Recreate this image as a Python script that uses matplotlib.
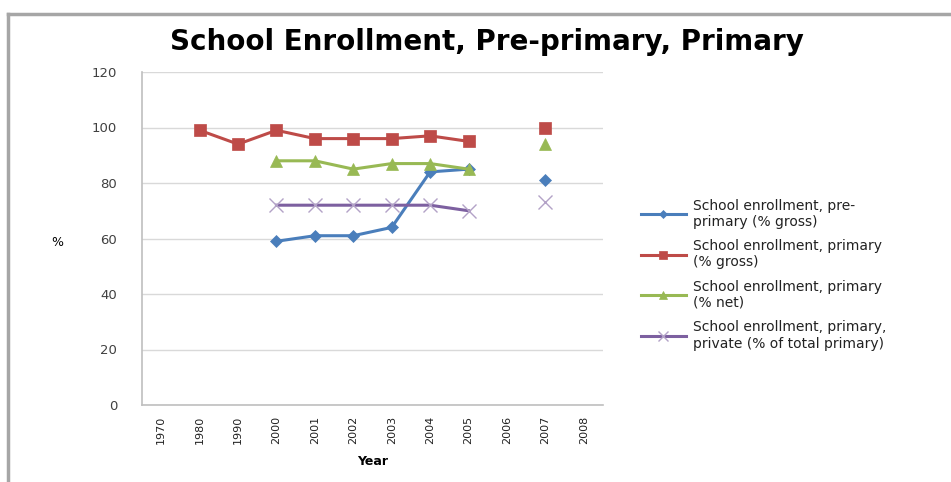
import numpy as np
import matplotlib
matplotlib.use("Agg")
import matplotlib.pyplot as plt
from matplotlib.lines import Line2D

years = ["1970", "1980", "1990", "2000", "2001", "2002", "2003", "2004", "2005", "2006", "2007", "2008"]
nan = np.nan
pre_primary_gross = [nan, nan, nan, 59, 61, 61, 64, 84, 85, nan, 81, nan]
primary_gross = [nan, 99, 94, 99, 96, 96, 96, 97, 95, nan, 100, nan]
primary_net = [nan, nan, nan, 88, 88, 85, 87, 87, 85, nan, 94, nan]
primary_private = [nan, nan, nan, 72, 72, 72, 72, 72, 70, nan, 73, nan]

labels = ["School enrollment, pre-\nprimary (% gross)",
          "School enrollment, primary\n(% gross)",
          "School enrollment, primary\n(% net)",
          "School enrollment, primary,\nprivate (% of total primary)"]
colors = ["#4A7EBB", "#BE4B48", "#98B954", "#7D60A0"]
marker_colors = ["#4A7EBB", "#BE4B48", "#98B954", "#B3A2C7"]
markers = ["D", "s", "^", "x"]
msizes = [6, 8, 8, 10]

fig = plt.figure(figsize=(9.51, 4.82), dpi=100)
ax = fig.add_axes([142/951, 1-405/482, (603-142)/951, (405-72)/482])

x = np.arange(len(years))
series = [pre_primary_gross, primary_gross, primary_net, primary_private]
handles = []
for s, c, mc, m, ms, lab in zip(series, colors, marker_colors, markers, msizes, labels):
    y = np.array(s, dtype=float)
    ax.plot(x, y, color=c, lw=2.2, marker=m, ms=ms, mec=mc, mfc=mc,
            mew=1.0 if m == "x" else 0.5, zorder=3)
    handles.append(Line2D([], [], color=c, lw=2.2, marker=m, ms=ms*0.75, mec=mc, mfc=mc,
                          mew=1.0 if m == "x" else 0.5, label=lab))

ax.set_xlim(-0.5, len(years)-0.5)
ax.set_ylim(0, 120)
ax.set_yticks(range(0, 121, 20))
ax.set_xticks(x)
ax.set_xticklabels(years, rotation=90, fontsize=8, family="Liberation Sans Narrow")
ax.tick_params(axis="y", labelsize=9.5, colors="#404040", length=0, pad=18)
ax.tick_params(axis="x", length=0, pad=8, colors="#222222")
ax.grid(axis="y", color="#D9D9D9", lw=1)
ax.set_axisbelow(True)
for sp in ["top", "right"]:
    ax.spines[sp].set_visible(False)
ax.spines["left"].set_color("#BFBFBF")
ax.spines["bottom"].set_color("#BFBFBF")
ax.spines["left"].set_linewidth(1.2)
ax.spines["bottom"].set_linewidth(1.2)

ax.set_xlabel("Year", fontsize=9, fontweight="bold", labelpad=8)
fig.text(57/951, 1-242/482, "%", fontsize=9, ha="center", va="center")
fig.text(487/951, 1-42/482, "School Enrollment, Pre-primary, Primary",
         fontsize=20, fontweight="bold", ha="center", va="center", family="DejaVu Sans")

leg = fig.legend(handles=handles, loc="upper left", bbox_to_anchor=(628/951, 1-186/482),
                 frameon=False, fontsize=10, handlelength=3.3, labelspacing=0.75,
                 handletextpad=0.5)
for t in leg.get_texts():
    t.set_color("#222222")

# outer frame border
fig.add_artist(Line2D([8/951, 8/951], [0, 1-14/482], transform=fig.transFigure, color="#A6A6A6", lw=2.5))
fig.add_artist(Line2D([8/951, 1], [1-14/482, 1-14/482], transform=fig.transFigure, color="#A6A6A6", lw=2.5))

fig.savefig("out.png", dpi=100)
